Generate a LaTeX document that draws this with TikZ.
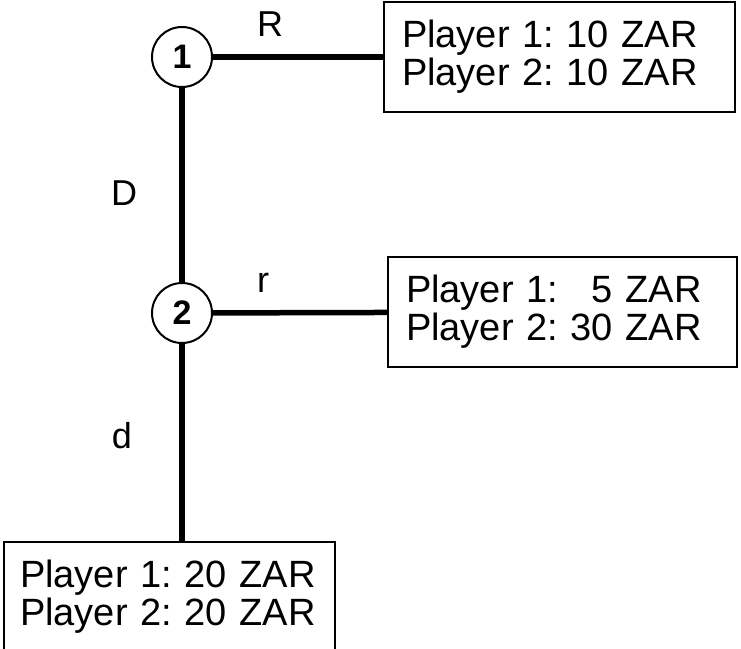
\documentclass[tikz,border=0pt]{standalone}
\usepackage{fontspec}
\setmainfont{Liberation Sans}
\frenchspacing
\begin{document}
\begin{tikzpicture}[x=1pt,y=-1pt,
  decision/.style={circle,draw,line width=2pt,minimum size=60pt,inner sep=0pt,
    font=\bfseries\fontsize{34}{34}\selectfont},
  payoff/.style={draw,line width=2pt,inner xsep=18pt,inner ysep=0pt,
    align=left,minimum height=110pt,font=\fontsize{38}{38}\selectfont},
  branch/.style={line width=5.5pt},
  lbl/.style={font=\fontsize{36}{36}\selectfont,inner sep=0pt}]
\useasboundingbox (0,0) rectangle (741,648);
\node[decision] (c1) at (182,57) {1};
\node[decision] (c2) at (182,313) {2};
\node[payoff,text width=315pt] (b1) at (559.5,57) {Player 1: 10 ZAR\\Player 2: 10 ZAR};
\node[payoff,text width=313pt] (b2) at (562.5,312) {Player 1: \phantom{0}5 ZAR\\Player 2: 30 ZAR};
\node[payoff,text width=299pt,inner xsep=16pt] (b3) at (169.5,597) {Player 1: 20 ZAR\\Player 2: 20 ZAR};
\draw[branch] (c1) -- (b1);
\draw[branch] (c2) -- (b2);
\draw[branch] (c1) -- (c2);
\draw[branch] (c2) -- (c2 |- b3.north);
\node[lbl] (lR) at (270,24) {R};
\node[lbl] (lr) at (263,283) {r};
\node[lbl] (lD) at (124,193) {D};
\node[lbl] (ld) at (122,436) {d};
\end{tikzpicture}
\end{document}
